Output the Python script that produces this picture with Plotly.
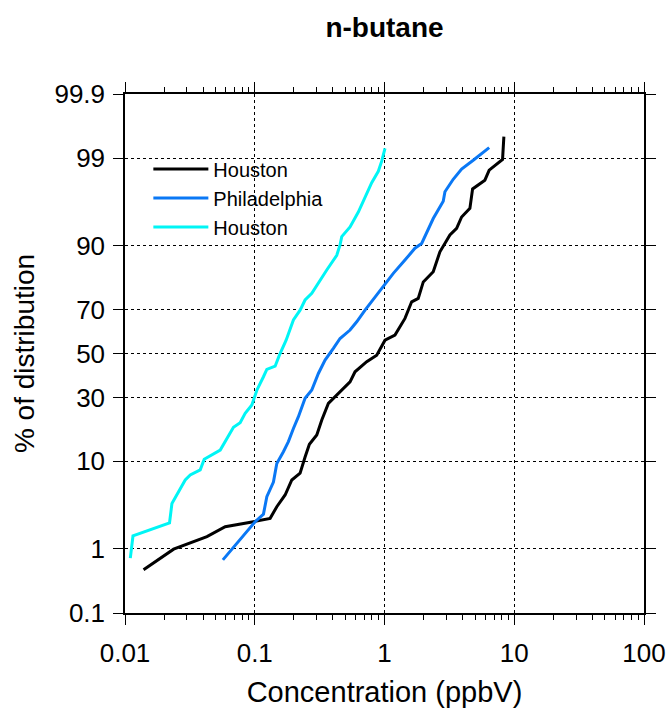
import plotly.graph_objects as go
from statistics import NormalDist

# ---- data ----
houston1_conc = [0.0139, 0.0237, 0.0428, 0.0592, 0.0977, 0.1314, 0.1479, 0.1714, 0.1930, 0.2236,
                 0.2443, 0.2637, 0.3006, 0.3286, 0.3693, 0.4543, 0.5426, 0.5928, 0.7295, 0.871,
                 1.009, 1.204, 1.438, 1.620, 1.820, 1.990, 2.375, 2.674, 3.193, 3.596,
                 3.929, 4.552, 4.775, 5.937, 6.410, 8.125, 8.318]
houston1_pct = [0.50, 0.99, 1.46, 1.96, 2.26, 2.48, 3.4, 4.6, 6.6, 7.7,
                10.9, 14.0, 16.6, 21.4, 27.6, 32.4, 36.8, 41.4, 46.1, 49.2,
                56.3, 58.7, 66.2, 73.1, 74.4, 80.3, 83.5, 88.7, 92.1, 93.2,
                94.8, 95.8, 97.5, 98.05, 98.55, 98.96, 99.51]

phila_conc = [0.0568, 0.1007, 0.1167, 0.1239, 0.1393, 0.1479, 0.1663, 0.1817, 0.1986, 0.2170,
              0.2443, 0.2752, 0.3093, 0.3483, 0.4036, 0.4543, 0.5426, 0.6109, 0.7079, 0.8451,
              0.979, 1.169, 1.438, 1.717, 1.934, 2.174, 2.375, 2.836, 2.923, 3.385,
              3.929, 4.828, 6.410]
phila_pct = [0.70, 2.26, 2.79, 4.4, 6.3, 9.5, 12.1, 14.7, 18.6, 22.6,
             29.7, 33.2, 40.6, 46.9, 52.4, 57.1, 61.0, 64.7, 69.7, 75.0,
             78.6, 83.0, 86.7, 89.5, 90.5, 92.9, 94.6, 96.5, 97.3, 98.1,
             98.6, 98.93, 99.29]

houston2_conc = [0.01099, 0.01152, 0.02204, 0.02300, 0.02912, 0.03183, 0.03800, 0.04078, 0.05418, 0.06273,
                 0.06855, 0.07718, 0.08435, 0.09499, 0.1038, 0.1167, 0.1239, 0.1436, 0.1549, 0.1745,
                 0.1986, 0.2236, 0.2443, 0.2752, 0.3188, 0.3589, 0.4285, 0.4543, 0.4683, 0.5426,
                 0.6285, 0.7295, 0.7970, 0.8960, 0.9515, 1.009]
houston2_pct = [0.74, 1.49, 2.19, 3.7, 6.6, 7.4, 8.3, 10.4, 12.5, 16.1,
                19.0, 20.5, 23.8, 27.0, 33.1, 39.1, 42.5, 44.0, 49.2, 56.3,
                65.5, 69.7, 73.8, 76.3, 80.9, 84.0, 87.9, 90.2, 91.8, 93.4,
                95.4, 97.2, 97.9, 98.5, 98.9, 99.27]

series_names = ["Houston", "Philadelphia", "Houston"]
series_colors = ["#000000", "#0A78F5", "#00F5F5"]

x_tick_vals = [0.01, 0.1, 1, 10, 100]
x_tick_text = ["0.01", "0.1", "1", "10", "100"]
y_tick_pct = [0.1, 1, 10, 30, 50, 70, 90, 99, 99.9]
y_tick_text = ["0.1", "1", "10", "30", "50", "70", "90", "99", "99.9"]

# ---- probability (normal quantile) scale ----
nd = NormalDist()


def probit(pcts):
    return [nd.inv_cdf(p / 100.0) for p in pcts]


FONT = "Liberation Sans, Arial, Helvetica, sans-serif"

fig = go.Figure()
for name, color, xs, ps in zip(series_names, series_colors,
                               [houston1_conc, phila_conc, houston2_conc],
                               [houston1_pct, phila_pct, houston2_pct]):
    fig.add_trace(go.Scatter(x=xs, y=probit(ps), mode="lines", name=name,
                             line=dict(color=color, width=3)))

zlim = nd.inv_cdf(0.999)

axis_common = dict(
    showline=True, linecolor="black", linewidth=1.5,
    ticks="outside", ticklen=10, tickwidth=1.2, tickcolor="black",
    mirror="ticks",
    showgrid=True, gridcolor="black", gridwidth=1, griddash="dot",
    zeroline=False, automargin=False,
    tickfont=dict(family=FONT, size=26, color="black"),
)

fig.update_xaxes(
    type="log", range=[-2, 2],
    tickmode="array", tickvals=x_tick_vals, ticktext=x_tick_text,
    ticklabelstandoff=6,
    minor=dict(ticks="outside", ticklen=5, tickwidth=1, tickcolor="black",
               dtick="D1", showgrid=False),
    title=dict(text="Concentration (ppbV)", font=dict(family=FONT, size=29, color="black"), standoff=15),
    **axis_common,
)
fig.update_yaxes(
    range=[-zlim, zlim],
    tickmode="array", tickvals=probit(y_tick_pct), ticktext=y_tick_text,
    ticklabelstandoff=3,
    title=dict(text="% of distribution", font=dict(family=FONT, size=28, color="black"), standoff=12),
    **axis_common,
)

fig.update_layout(
    width=670, height=712,
    margin=dict(l=125, r=26, t=94, b=99),
    paper_bgcolor="white", plot_bgcolor="white",
    font=dict(family=FONT, color="black"),
    title=dict(text="<b>n-butane</b>", x=0.5, xref="paper", xanchor="center",
               y=0.962, yref="container", yanchor="middle",
               font=dict(family=FONT, size=28, color="black")),
    legend=dict(x=0.045, y=0.893, xanchor="left", yanchor="top",
                bgcolor="rgba(0,0,0,0)", borderwidth=0,
                font=dict(family=FONT, size=20, color="black"),
                itemwidth=55, tracegroupgap=0),
    showlegend=True,
)

fig.write_html(
    "out.html",
    config={"displayModeBar": False},
    post_script="document.body.style.margin='0';document.body.style.overflow='hidden';",
)
